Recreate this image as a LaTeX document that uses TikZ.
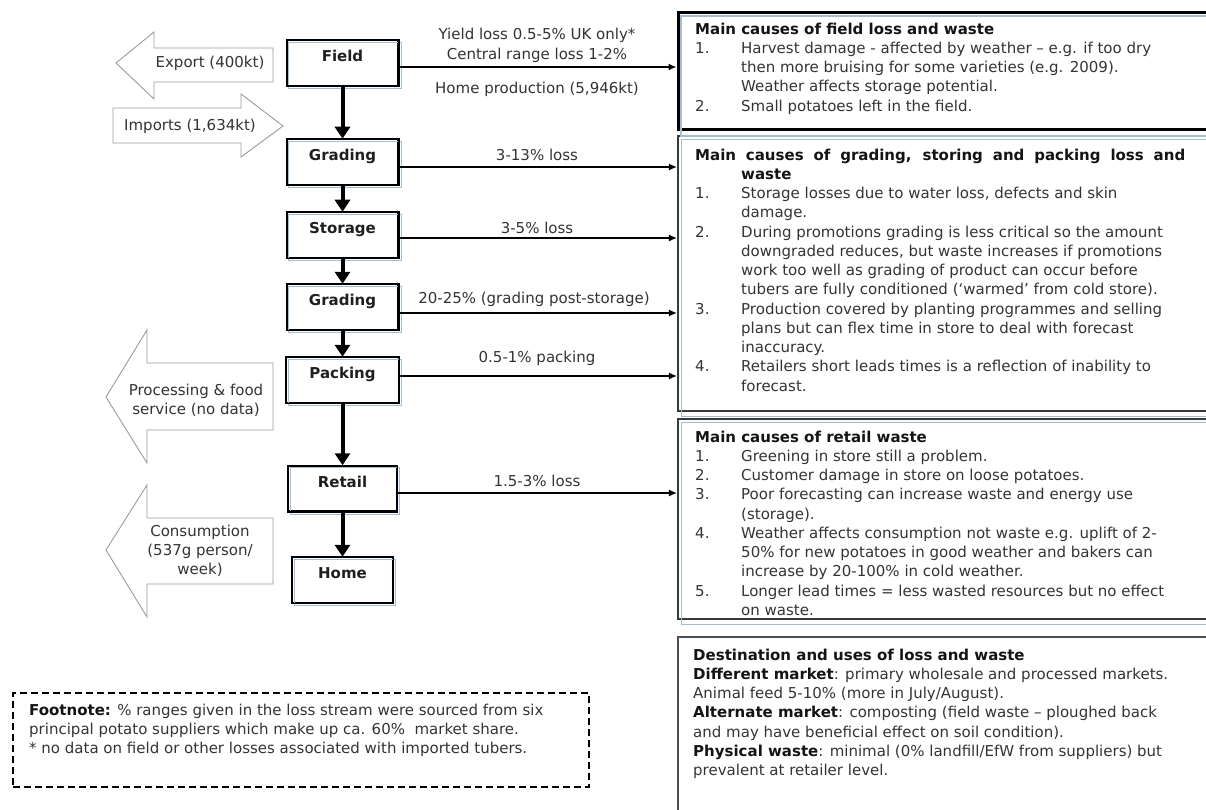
\documentclass[tikz,border=0pt]{standalone}
\usepackage{fontspec}
\setmainfont{DejaVu Sans}
\usetikzlibrary{arrows.meta,calc}

\definecolor{txt}{HTML}{333333}
\definecolor{boxblue}{HTML}{A3BED2}
\definecolor{outline}{HTML}{9A9A9A}
\definecolor{frame}{HTML}{3A3A3A}

% number column and continuation indent for the numbered lists
\newcommand\numcol[1]{\makebox[46pt][l]{#1}}
\newcommand\contcol{\hspace*{46pt}}
% fixed height for the first line of a text block
\newcommand\firstline{\rule{0pt}{12pt}}

\begin{document}
\begin{tikzpicture}[x=1pt,y=-1pt,
  every node/.style={font=\fontsize{15}{19.25}\selectfont, text=txt},
  procbox/.style={draw=black, line width=1.5pt, minimum height=45pt, inner sep=0pt,
    text height=21pt, text depth=24pt, font=\fontsize{15}{19.25}\selectfont\bfseries, text=black!88},
  flowarrow/.style={line width=4pt, -{Triangle[width=15pt,length=12pt]}},
  lossarrow/.style={line width=1.3pt, -{Latex[length=8pt,width=7pt]}},
  causebox/.style={draw=frame, line width=2.2pt, inner sep=0pt},
  listtext/.style={anchor=north west, align=left, inner sep=0pt},
  sidearrow/.style={draw=outline, line width=0.9pt, fill=white}
]
\useasboundingbox (0,0) rectangle (1206,810);
\clip (0,0) rectangle (1206,810);

% ---- side flows: exports, imports, processing, consumption ----
\draw[sidearrow] (116,63) -- (154,32) -- (154,48) -- (273,48) -- (273,82) -- (154,82) -- (154,99) -- cycle;
\draw[sidearrow] (113,108) -- (241,108) -- (241,94) -- (283,126) -- (241,157) -- (241,143) -- (113,143) -- cycle;
\draw[sidearrow] (106,397) -- (147,330) -- (147,363) -- (273,363) -- (273,430) -- (147,430) -- (147,463) -- cycle;
\draw[sidearrow] (106,550) -- (147,485) -- (147,518) -- (273,518) -- (273,584) -- (147,584) -- (147,617) -- cycle;

\node (export) at (210,63) {Export (400kt)};
\node (imports) at (190,126) {Imports (1,634kt)};
\node[align=center] (processing) at (196,400) {Processing \& food\\service (no data)};
\node[align=center] (consumption) at (200,551) {Consumption\\(537g person/\\week)};

% ---- supply chain stages ----
\node[procbox, minimum width=111pt] (field)    at (342.5,63)  {Field};
\node[procbox, minimum width=111pt] (grading1) at (342.5,162) {Grading};
\node[procbox, minimum width=111pt] (storage)  at (342.5,235) {Storage};
\node[procbox, minimum width=111pt] (grading2) at (342.5,307) {Grading};
\node[procbox, minimum width=112pt] (packing)  at (342.5,380) {Packing};
\node[procbox, minimum width=108pt] (retail)   at (342.5,488.5) {Retail};
\node[procbox, minimum width=100pt] (home)     at (342.5,580) {Home};

% light offset edge behind each stage box
\foreach \n in {field,grading1,storage,grading2,packing,retail,home}{
  \draw[boxblue, line width=0.9pt] ([shift={(2.5,2.5)}]\n.north west) rectangle ([shift={(2.5,2.5)}]\n.south east);
  \draw[black, line width=1.5pt] (\n.north west) rectangle (\n.south east);
}

\draw[flowarrow] (field) -- (grading1);
\draw[flowarrow] (grading1) -- (storage);
\draw[flowarrow] (storage) -- (grading2);
\draw[flowarrow] (grading2) -- (packing);
\draw[flowarrow] (packing) -- (retail);
\draw[flowarrow] (retail) -- (home);

% ---- cause boxes ----
\node[causebox, draw=black, line width=3pt, minimum width=537pt, minimum height=117pt] (fieldcauses) at (946.5,71.5) {};
\node[causebox, minimum width=537pt, minimum height=275pt] (gradecauses) at (946.5,273.5) {};
\node[causebox, minimum width=537pt, minimum height=200pt] (retailcauses) at (946.5,519) {};
\node[causebox, draw=frame!90, line width=2pt, minimum width=537pt, minimum height=193pt] (destination) at (946.5,733.5) {};
\foreach \n in {fieldcauses,gradecauses,retailcauses}{
  \draw[boxblue, line width=1.2pt] ([shift={(4.5,4.5)}]\n.north west) rectangle ([shift={(4.5,4.5)}]\n.south east);
}

\node[listtext] (fieldtext) at (695,22) {%
  \firstline{\bfseries\color{black!92}Main causes of field loss and waste}\\
  \numcol{1.}Harvest damage - affected by weather – e.g. if too dry\\
  \contcol then more bruising for some varieties (e.g. 2009).\\
  \contcol Weather affects storage potential.\\
  \numcol{2.}Small potatoes left in the field.};

\node[listtext] (gradetext) at (695,148) {%
  \firstline{\bfseries\color{black!92}\makebox[490pt][s]{Main causes of grading, storing and packing loss and}}\\
  \contcol{\bfseries\color{black!92}waste}\\
  \numcol{1.}Storage losses due to water loss, defects and skin\\
  \contcol damage.\\
  \numcol{2.}During promotions grading is less critical so the amount\\
  \contcol downgraded reduces, but waste increases if promotions\\
  \contcol work too well as grading of product can occur before\\
  \contcol tubers are fully conditioned (‘warmed’ from cold store).\\
  \numcol{3.}Production covered by planting programmes and selling\\
  \contcol plans but can flex time in store to deal with forecast\\
  \contcol inaccuracy.\\
  \numcol{4.}Retailers short leads times is a reflection of inability to\\
  \contcol forecast.};

\node[listtext] (retailtext) at (695,430) {%
  \firstline{\bfseries\color{black!92}Main causes of retail waste}\\
  \numcol{1.}Greening in store still a problem.\\
  \numcol{2.}Customer damage in store on loose potatoes.\\
  \numcol{3.}Poor forecasting can increase waste and energy use\\
  \contcol (storage).\\
  \numcol{4.}Weather affects consumption not waste e.g. uplift of 2-\\
  \contcol 50\% for new potatoes in good weather and bakers can\\
  \contcol increase by 20-100\% in cold weather.\\
  \numcol{5.}Longer lead times = less wasted resources but no effect\\
  \contcol on waste.};

\node[listtext] (desttext) at (693,648) {%
  \firstline{\bfseries\color{black!92}Destination and uses of loss and waste}\\
  {\bfseries\color{black!92}Different market}: primary wholesale and processed markets.\\
  Animal feed 5-10\% (more in July/August).\\
  {\bfseries\color{black!92}Alternate market}: composting (field waste – ploughed back\\
  and may have beneficial effect on soil condition).\\
  {\bfseries\color{black!92}Physical waste}: minimal (0\% landfill/EfW from suppliers) but\\
  prevalent at retailer level.};

% ---- loss streams ----
\draw[lossarrow] ([yshift=-4pt]field.east) -- ([yshift=-4pt]field.east -| fieldcauses.west);
\draw[lossarrow] ([yshift=-5pt]grading1.east) -- ([yshift=-5pt]grading1.east -| gradecauses.west);
\draw[lossarrow] ([yshift=-3pt]storage.east) -- ([yshift=-3pt]storage.east -| gradecauses.west);
\draw[lossarrow] ([yshift=-6pt]grading2.east) -- ([yshift=-6pt]grading2.east -| gradecauses.west);
\draw[lossarrow] ([yshift=4pt]packing.east) -- ([yshift=4pt]packing.east -| gradecauses.west);
\draw[lossarrow] ([yshift=-4.5pt]retail.east) -- ([yshift=-4.5pt]retail.east -| retailcauses.west);

\node (yield)   at (537,35)  {Yield loss 0.5-5\% UK only*};
\node (central) at (537,55)  {Central range loss 1-2\%};
\node (homeprod) at (537,89) {Home production (5,946kt)};
\node (loss1) at (537,155) {3-13\% loss};
\node (loss2) at (537,228) {3-5\% loss};
\node (loss3) at (534,299) {20-25\% (grading post-storage)};
\node (loss4) at (537,358) {0.5-1\% packing};
\node (loss5) at (537,481) {1.5-3\% loss};

% ---- footnote ----
\node[draw=black, line width=2pt, dash pattern=on 7pt off 4pt, minimum width=576pt, minimum height=94pt, inner sep=0pt] (footbox) at (301,740) {};
\node[listtext] (foottext) at (29,703) {%
  \firstline{\bfseries\color{black!92}Footnote:} \% ranges given in the loss stream were sourced from six\\
  principal potato suppliers which make up ca. 60\%\ \ market share.\\
  * no data on field or other losses associated with imported tubers.};

\end{tikzpicture}
\end{document}
